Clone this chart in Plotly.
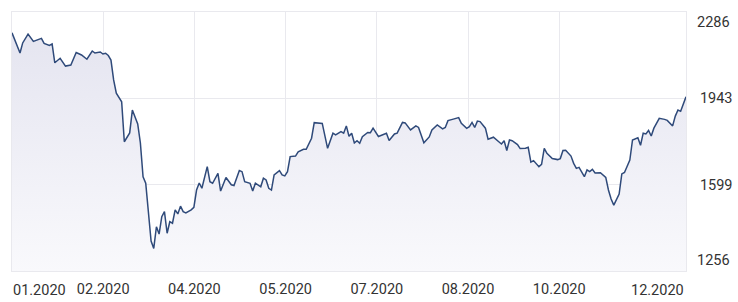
import plotly.graph_objects as go

# trading-day index (0 = early Jan 2020, 252 = end of Dec 2020)
day = [0, 3, 4, 6, 8, 11, 12, 14, 15, 16, 18, 20, 22, 24, 26, 28, 30, 31, 33,
       34, 35, 36, 37, 38, 39, 40, 41, 42, 44, 45, 47, 48, 49, 50, 52, 53, 54,
       55, 56, 57, 58, 59, 60, 61, 62, 63, 64, 65, 67, 68, 69, 70, 71, 73, 74,
       75, 77, 78, 80, 82, 83, 85, 86, 87, 89, 90, 91, 93, 94, 95, 96, 97, 98,
       100, 101, 102, 103, 104, 106, 107, 109, 110, 112, 113, 115, 116, 118,
       120, 121, 123, 124, 125, 126, 127, 128, 129, 130, 131, 133, 134, 135,
       137, 140, 141, 143, 144, 146, 147, 149, 151, 152, 154, 156, 157, 159,
       161, 162, 163, 165, 167, 168, 170, 171, 172, 173, 174, 175, 177, 178,
       180, 182, 183, 184, 185, 186, 187, 189, 190, 192, 193, 194, 195, 197,
       198, 199, 200, 202, 204, 205, 206, 207, 209, 210, 211, 212, 214, 215,
       216, 217, 218, 220, 222, 223, 224, 225, 227, 228, 229, 231, 232, 234,
       235, 236, 237, 238, 239, 240, 242, 244, 245, 247, 248, 249, 250, 252]

value = [2203, 2123, 2163, 2198, 2169, 2181, 2161, 2153, 2159, 2084, 2102,
         2071, 2075, 2125, 2115, 2098, 2131, 2123, 2127,
         2119, 2122, 2113, 2095, 2016, 1963, 1943, 1929, 1770, 1805, 1896,
         1841, 1765, 1631, 1605, 1375, 1346, 1432,
         1403, 1472, 1492, 1406, 1452, 1446, 1499, 1483, 1514, 1492, 1487,
         1499, 1509, 1578, 1606, 1585, 1671, 1611,
         1605, 1644, 1574, 1628, 1599, 1596, 1656, 1651, 1611, 1605, 1574,
         1605, 1591, 1625, 1618, 1585, 1578, 1638,
         1655, 1638, 1634, 1651, 1711, 1713, 1730, 1740, 1740, 1784, 1846,
         1843, 1843, 1744,
         1804, 1797, 1810, 1804, 1833, 1792, 1804, 1765, 1774, 1764, 1790,
         1807, 1806, 1824,
         1791, 1804, 1775, 1801, 1804, 1847, 1845, 1817, 1833, 1827, 1766,
         1789, 1817, 1837,
         1821, 1827, 1854, 1860, 1866, 1843, 1823, 1830, 1847, 1827, 1852,
         1850, 1824, 1780,
         1788, 1770, 1761, 1774, 1735, 1777, 1774, 1759, 1743, 1744, 1748,
         1689, 1695, 1671,
         1680, 1744, 1724, 1703, 1699, 1703, 1735, 1736, 1713, 1684, 1664,
         1668, 1631, 1658,
         1651, 1660, 1646, 1647, 1628, 1578, 1542, 1518, 1562, 1642, 1648,
         1697, 1777, 1786,
         1756, 1804, 1801, 1815, 1793, 1824, 1863, 1859, 1855, 1833, 1872,
         1896, 1891, 1949]

x_tick_vals = [34.1, 68.2, 102.3, 136.4, 170.5, 204.6]
x_tick_text = ["02.2020", "04.2020", "05.2020", "07.2020", "08.2020", "10.2020"]
x_first_label = "01.2020"
x_last_label = "12.2020"
y_min, y_max = 1256, 2286
y_tick_vals = [1599, 1943]
x_range = [0, 252]

LINE = "#2f4a7a"
GRID = "#e9e9ee"
TEXT = "#333333"
FONT = "Roboto"
FS = 14.5

fig = go.Figure()
fig.add_trace(go.Scatter(
    x=day, y=value, mode="lines",
    line=dict(color=LINE, width=1.5),
    fill="tozeroy",
    fillgradient=dict(type="vertical", start=y_min, stop=y_max,
                      colorscale=[[0, "#f9f9fc"], [1, "#e3e3ef"]]),
    hoverinfo="skip",
))

fig.update_layout(
    width=738, height=302,
    margin=dict(l=12, r=52, t=12, b=31, autoexpand=False),
    paper_bgcolor="white", plot_bgcolor="white",
    showlegend=False,
    font=dict(family=FONT, size=FS, color=TEXT),
)
fig.update_xaxes(
    range=x_range, tickvals=x_tick_vals, ticktext=x_tick_text,
    showgrid=True, gridcolor=GRID, gridwidth=1,
    showline=True, linecolor=GRID, linewidth=1, mirror=True,
    zeroline=False, ticks="", ticklabelstandoff=5, automargin=False,
    tickfont=dict(family=FONT, size=FS, color=TEXT),
)
fig.update_yaxes(
    range=[y_min, y_max], tickvals=y_tick_vals, side="right",
    showgrid=True, gridcolor=GRID, gridwidth=1,
    showline=True, linecolor=GRID, linewidth=1, mirror=True,
    zeroline=False, ticks="", ticklabelstandoff=10, automargin=False,
    tickfont=dict(family=FONT, size=FS, color=TEXT),
)

fig.add_annotation(x=x_range[0], y=0, xref="x", yref="paper",
                   text=x_first_label, showarrow=False,
                   xanchor="left", yanchor="top", yshift=-9, xshift=-1,
                   font=dict(family=FONT, size=FS, color=TEXT))
fig.add_annotation(x=x_range[1], y=0, xref="x", yref="paper",
                   text=x_last_label, showarrow=False,
                   xanchor="right", yanchor="top", yshift=-9,
                   font=dict(family=FONT, size=FS, color=TEXT))
fig.add_annotation(x=1, y=y_max, xref="paper", yref="y",
                   text=str(y_max), showarrow=False,
                   xanchor="left", yanchor="top", xshift=9,
                   font=dict(family=FONT, size=FS, color=TEXT))
fig.add_annotation(x=1, y=y_min, xref="paper", yref="y",
                   text=str(y_min), showarrow=False,
                   xanchor="left", yanchor="bottom", xshift=9,
                   font=dict(family=FONT, size=FS, color=TEXT))

fig.write_html("out.html")
